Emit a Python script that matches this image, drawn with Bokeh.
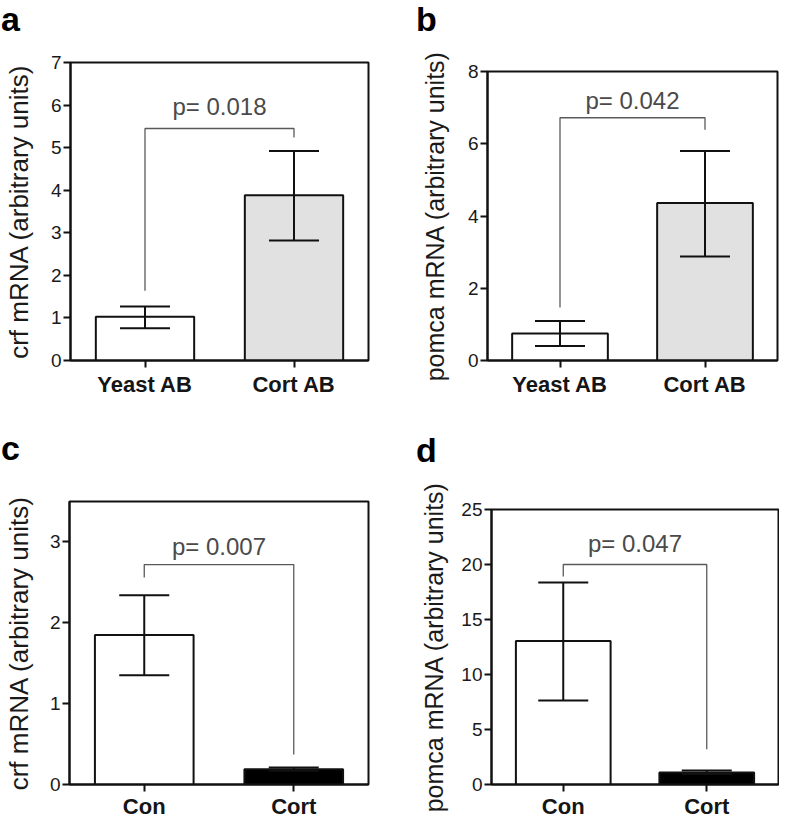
from bokeh.plotting import figure
from bokeh.models import Whisker, TeeHead, ColumnDataSource, FixedTicker, Range1d, Div
from bokeh.layouts import column, row
from bokeh.core.properties import value
from bokeh.embed import file_html
from bokeh.resources import INLINE

# ---------------- data ----------------
groups_ab = ["Yeast AB", "Cort AB"]
groups_cd = ["Con", "Cort"]

a_mean = [1.03, 3.88]
a_low = [0.76, 2.82]
a_high = [1.27, 4.92]
a_bracket = [1.64, 5.45, 5.24]   # left foot, top, right foot
a_ptext = "p= 0.018"
a_pty = 5.97
a_yticks = [0, 1, 2, 3, 4, 5, 6, 7]

b_mean = [0.75, 4.36]
b_low = [0.40, 2.88]
b_high = [1.09, 5.80]
b_bracket = [1.47, 6.72, 6.39]
b_ptext = "p= 0.042"
b_pty = 7.21
b_yticks = [0, 2, 4, 6, 8]

c_mean = [1.85, 0.19]
c_low = [1.35, 0.17]
c_high = [2.34, 0.21]
c_bracket = [2.56, 2.72, 0.37]
c_ptext = "p= 0.007"
c_pty = 2.94
c_yticks = [0, 1, 2, 3]

d_mean = [13.05, 1.10]
d_low = [7.64, 0.95]
d_high = [18.37, 1.28]
d_bracket = [18.9, 20.0, 3.2]
d_ptext = "p= 0.047"
d_pty = 21.9
d_yticks = [0, 5, 10, 15, 20, 25]

FONT = "Liberation Sans"


def letter_div(letter, w, h, indent, lh):
    return Div(text=letter, width=w, height=h, margin=(0, 0, 0, 0),
               styles={"font-family": FONT, "font-size": "34px",
                       "font-weight": "bold", "line-height": f"{lh}px",
                       "text-indent": f"{indent}px", "color": "#000000"})


def panel(cats, mean, low, high, colors, ymax, yticks, ylabel,
          bracket, ptext, pty, geo):
    p = figure(width=geo["w"], height=geo["h"], output_backend="svg",
               toolbar_location=None,
               x_range=Range1d(-0.5, 1.5), y_range=Range1d(0, ymax),
               min_border_left=geo["l"], min_border_right=geo["r"],
               min_border_top=geo["t"], min_border_bottom=geo["b"])
    p.frame_align = False
    p.background_fill_color = "white"
    p.border_fill_color = "white"
    p.xgrid.visible = False
    p.ygrid.visible = False
    p.outline_line_color = "#111111"
    p.outline_line_width = 2
    p.outline_line_alpha = 1.0

    xs = list(range(len(cats)))
    src = ColumnDataSource(dict(x=xs, top=mean, lower=low, upper=high, color=colors))
    p.vbar(x="x", top="top", bottom=0, width=0.66, source=src,
           fill_color="color", line_color="#111111", line_width=2)

    w = Whisker(base="x", upper="upper", lower="lower", source=src,
                line_color="#111111", line_width=2, level="annotation",
                upper_head=TeeHead(size=50, line_color="#111111", line_width=2),
                lower_head=TeeHead(size=50, line_color="#111111", line_width=2))
    p.add_layout(w)

    # significance bracket
    p.line(x=[xs[0], xs[0], xs[1], xs[1]],
           y=[bracket[0], bracket[1], bracket[1], bracket[2]],
           line_color="#5a5a5a", line_width=1.3)
    p.text(x=[(xs[0] + xs[1]) / 2], y=[pty], text=[ptext],
           text_font=value(FONT), text_font_size="24px", text_color="#4a4a4a",
           text_align="center", text_baseline="middle")

    # axes
    xa = p.xaxis[0]
    xa.ticker = FixedTicker(ticks=xs)
    xa.major_label_overrides = {xs[0]: cats[0], xs[1]: cats[1]}
    xa.major_label_text_font = FONT
    xa.major_label_text_font_size = "22px"
    xa.major_label_text_font_style = "bold"
    xa.major_label_text_color = "#151515"
    xa.major_label_standoff = geo["xs"]
    xa.minor_tick_line_color = None
    xa.major_tick_in = 0
    xa.major_tick_out = 7
    xa.major_tick_line_width = 2
    xa.major_tick_line_color = "#111111"
    xa.axis_line_width = 2
    xa.axis_line_color = "#111111"

    ya = p.yaxis[0]
    ya.ticker = FixedTicker(ticks=yticks)
    ya.major_label_text_font = FONT
    ya.major_label_text_font_size = "19px"
    ya.major_label_text_color = "#1a1a1a"
    ya.major_label_standoff = 2
    ya.minor_tick_line_color = None
    ya.major_tick_in = 0
    ya.major_tick_out = 7
    ya.major_tick_line_width = 2
    ya.major_tick_line_color = "#111111"
    ya.axis_line_width = 2
    ya.axis_line_color = "#111111"
    ya.axis_label = ylabel
    ya.axis_label_text_font = FONT
    ya.axis_label_text_font_size = geo["lf"]
    ya.axis_label_text_font_style = "normal"
    ya.axis_label_text_color = "#1a1a1a"
    ya.axis_label_standoff = geo["ls"]
    return p


pa = panel(groups_ab, a_mean, a_low, a_high, ["white", "#e1e1e1"], 7, a_yticks,
           "crf mRNA (arbitrary units)", a_bracket, a_ptext, a_pty,
           dict(w=395, h=380, l=70, r=27, t=22, b=60, ls=14, xs=4, lf="26px"))
pb = panel(groups_ab, b_mean, b_low, b_high, ["white", "#e1e1e1"], 8, b_yticks,
           "pomca mRNA (arbitrary units)", b_bracket, b_ptext, b_pty,
           dict(w=384, h=380, l=92, r=2, t=31, b=60, ls=16, xs=4, lf="25px"))
pc = panel(groups_cd, c_mean, c_low, c_high, ["white", "#000000"], 3.5, c_yticks,
           "crf mRNA (arbitrary units)", c_bracket, c_ptext, c_pty,
           dict(w=395, h=341, l=69, r=27, t=21, b=33, ls=13, xs=2, lf="26px"))
pd_ = panel(groups_cd, d_mean, d_low, d_high, ["white", "#000000"], 25, d_yticks,
            "pomca mRNA (arbitrary units)", d_bracket, d_ptext, d_pty,
            dict(w=384, h=341, l=96, r=1, t=29, b=32, ls=10, xs=2, lf="25px"))

la = letter_div("a", 395, 40, 1, 38)
lb = letter_div("b", 384, 40, 21, 38)
lc = letter_div("c", 395, 60, 1, 56)
ld = letter_div("d", 384, 60, 21, 60)

layout = column(row(la, lb), row(pa, pb), row(lc, ld), row(pc, pd_))

open("out.html", "w").write(file_html(layout, INLINE))
